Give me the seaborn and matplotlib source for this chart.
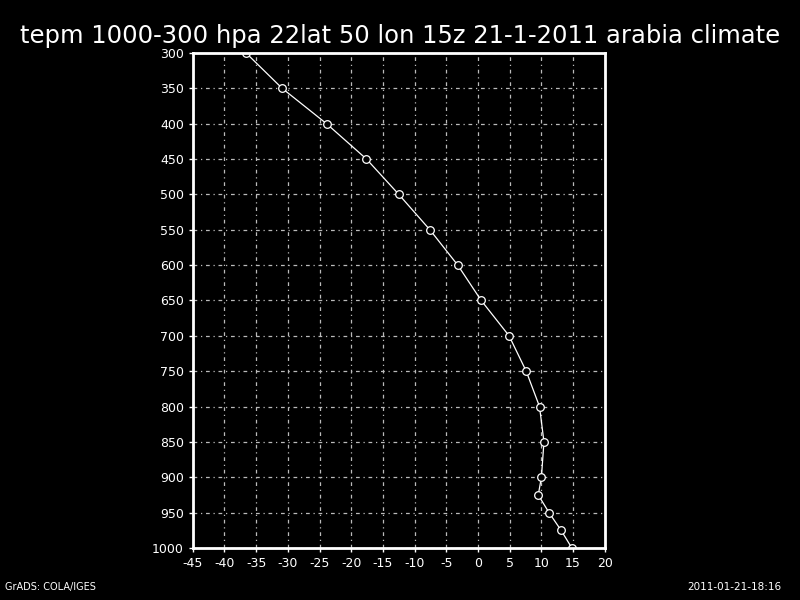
import numpy as np
import pandas as pd
import seaborn as sns
import matplotlib.pyplot as plt

# temperature profile
pressure = [300, 350, 400, 450, 500, 550, 600, 650, 700, 750, 800, 850, 900, 925, 950, 975, 1000]
temp = [-36.6, -30.9, -23.9, -17.6, -12.5, -7.6, -3.2, 0.5, 4.9, 7.6, 9.7, 10.4, 10.0, 9.5, 11.2, 13.1, 14.8]

x_ticks = list(range(-45, 21, 5))
y_ticks = list(range(300, 1001, 50))

df = pd.DataFrame({"temp": temp, "pressure": pressure})

sns.set_style("dark")
plt.rcParams['font.family'] = ['DejaVu Sans']

fig = plt.figure(figsize=(8, 6), dpi=100, facecolor="black")
ax = fig.add_axes([0.241, 0.0867, 0.515, 0.825])
ax.set_facecolor("black")

sns.lineplot(data=df, x="temp", y="pressure", sort=False, ax=ax,
             color="white", linewidth=0.9, marker="o", markersize=5.5,
             markerfacecolor="black", markeredgecolor="white", markeredgewidth=0.9)

ax.set_xlim(-45, 20)
ax.set_ylim(1000, 300)
ax.set_xticks(x_ticks)
ax.set_yticks(y_ticks)
ax.set_xticklabels([str(v) for v in x_ticks])
ax.set_yticklabels([str(v) for v in y_ticks])
ax.set_xlabel("")
ax.set_ylabel("")
ax.grid(True, color="#bbbbbb", linestyle=(0, (3, 3, 1, 3)), linewidth=0.9)

for s in ax.spines.values():
    s.set_visible(True)
    s.set_color("white")
    s.set_linewidth(2)
ax.tick_params(colors="white", labelsize=9, length=3, width=1, direction="out",
               bottom=True, left=True)

fig.text(0.5, 0.94, "tepm 1000-300 hpa 22lat 50 lon 15z 21-1-2011 arabia climate",
         color="white", fontsize=17.5, ha="center", va="center")
fig.text(0.006, 0.013, "GrADS: COLA/IGES", color="white", fontsize=7, ha="left", va="bottom")
fig.text(0.977, 0.013, "2011-01-21-18:16", color="white", fontsize=7.5, ha="right", va="bottom")

plt.savefig("out.png", facecolor="black")
plt.close()
